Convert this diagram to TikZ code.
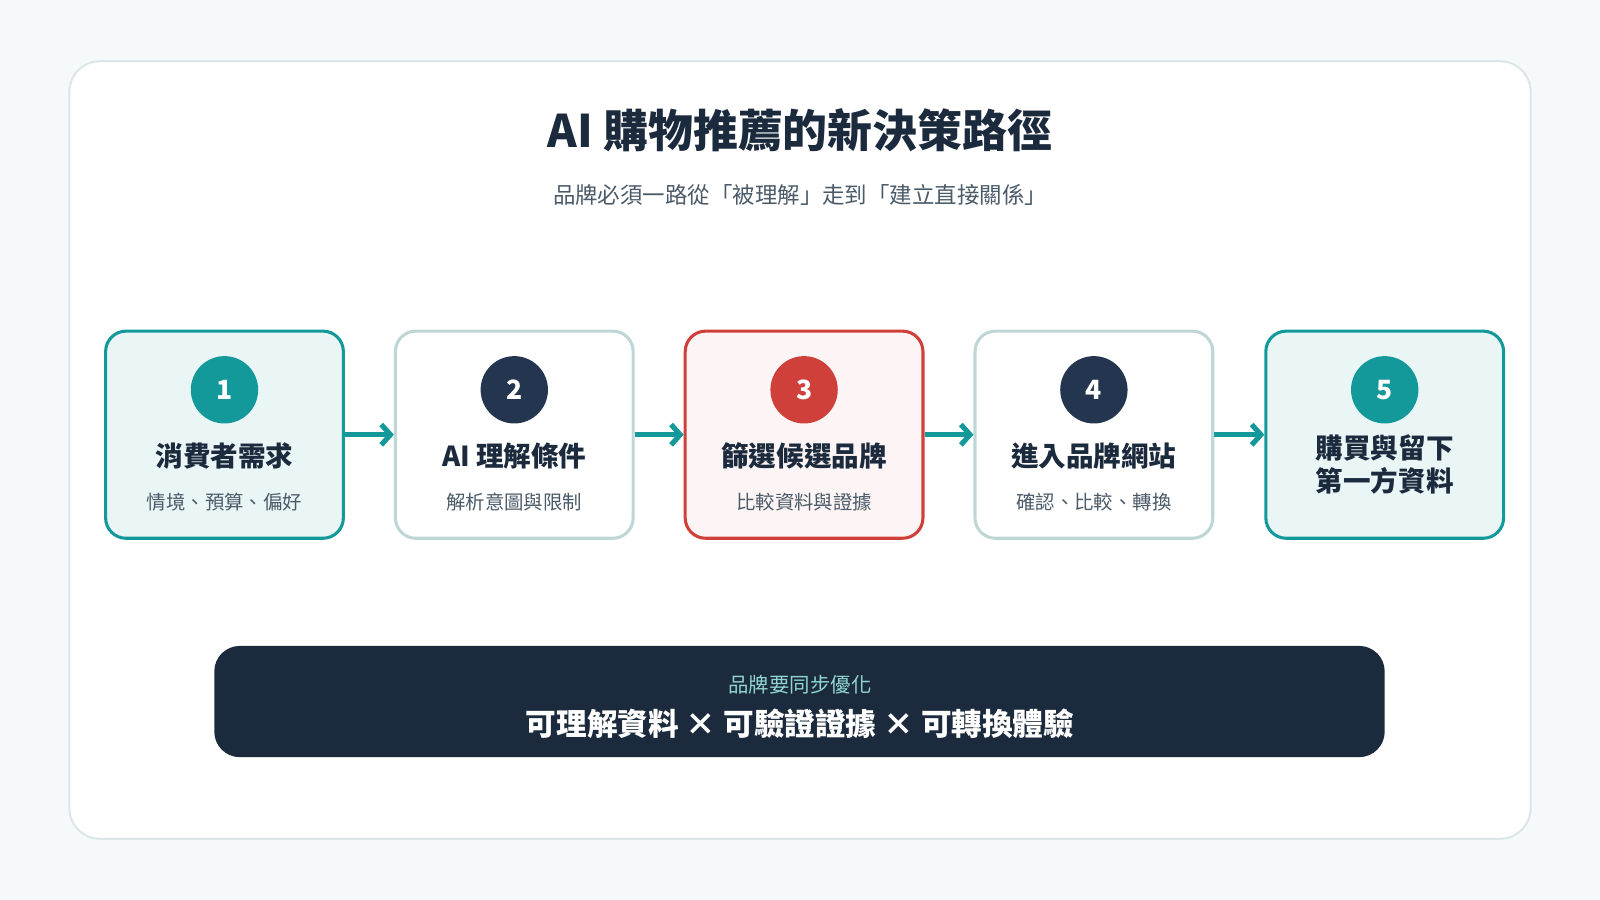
\documentclass[tikz,border=0pt]{standalone}
\usepackage{fontspec}
\setmainfont{Noto Sans CJK TC}
\usepackage{xcolor}
\usetikzlibrary{arrows.meta, positioning, calc}
\definecolor{teal1}{HTML}{14999A}
\definecolor{navy}{HTML}{1B2A3C}
\definecolor{navy2}{HTML}{24364F}
\definecolor{red1}{HTML}{D0403A}
\definecolor{gray1}{HTML}{BFD6D6}
\definecolor{textgray}{HTML}{4A5A68}
\definecolor{page}{HTML}{F5F9FA}
\definecolor{cardline}{HTML}{DCE6E8}
\definecolor{barsubcol}{HTML}{8FD6D3}
\tikzset{
  stage/.style = {rectangle, rounded corners=20pt, line width=3pt,
    minimum width=233pt, minimum height=203pt},
  hi/.style = {stage, draw=teal1, fill=teal1!9},
  plain/.style = {stage, draw=gray1, fill=white},
  pick/.style = {stage, draw=red1, fill=red1!5},
  num/.style = {circle, minimum size=66pt, text=white,
    font=\fontsize{26}{30}\selectfont\bfseries},
  head/.style = {font=\fontsize{27}{32}\selectfont\bfseries, text=navy},
  sub/.style = {font=\fontsize{19}{22}\selectfont, text=textgray},
  line/.style = {draw=teal1, line width=5pt, -{Straight Barb[length=9pt,width=20pt]}}
}
\begin{document}
\begin{tikzpicture}[x=1pt, y=-1pt]
    \useasboundingbox (0,0) rectangle (1568,882);
    \fill[page] (0,0) rectangle (1568,882);
    \draw[cardline, line width=2pt, fill=white, rounded corners=30pt] (68,60) rectangle (1500,822);
    % Title
    \node[font=\fontsize{44}{50}\selectfont\bfseries, text=navy] (title) at (784,128) {AI 購物推薦的新決策路徑};
    \node[font=\fontsize{22}{26}\selectfont, text=textgray] (subtitle) at (784,191) {品牌必須一路從「被理解」走到「建立直接關係」};
    % Stages
    \node[hi] (s1) at (220,426) {};
    \node[plain] (s2) at (504,426) {};
    \node[pick] (s3) at (788,426) {};
    \node[plain] (s4) at (1072,426) {};
    \node[hi] (s5) at (1357,426) {};
    \foreach \i/\c/\t/\s in {1/teal1/消費者需求/情境、預算、偏好,
        2/navy2/AI 理解條件/解析意圖與限制,
        3/red1/篩選候選品牌/比較資料與證據,
        4/navy2/進入品牌網站/確認、比較、轉換} {
      \node[num, fill=\c] (n\i) at ($(s\i.north)+(0,59)$) {\i};
      \node[head] (h\i) at ($(s\i.north)+(0,124)$) {\t};
      \node[sub] (d\i) at ($(s\i.north)+(0,169)$) {\s};
    }
    \node[num, fill=teal1] (n5) at ($(s5.north)+(0,59)$) {5};
    \node[head, align=center] (h5) at ($(s5.north)+(0,132)$) {購買與留下\\第一方資料};
    % Edges
    \path [line] (s1) -- (s2);
    \path [line] (s2) -- (s3);
    \path [line] (s3) -- (s4);
    \path [line] (s4) -- (s5);
    % Bottom bar
    \node[rectangle, rounded corners=25pt, fill=navy, minimum width=1147pt,
      minimum height=109pt] (bar) at (783.5,687.5) {};
    \node[font=\fontsize{20}{24}\selectfont, text=barsubcol] (barsub) at (784,671) {品牌要同步優化};
    \node[font=\fontsize{30}{34}\selectfont\bfseries, text=white] (barmain) at (784,709) {可理解資料 × 可驗證證據 × 可轉換體驗};
\end{tikzpicture}
\end{document}
